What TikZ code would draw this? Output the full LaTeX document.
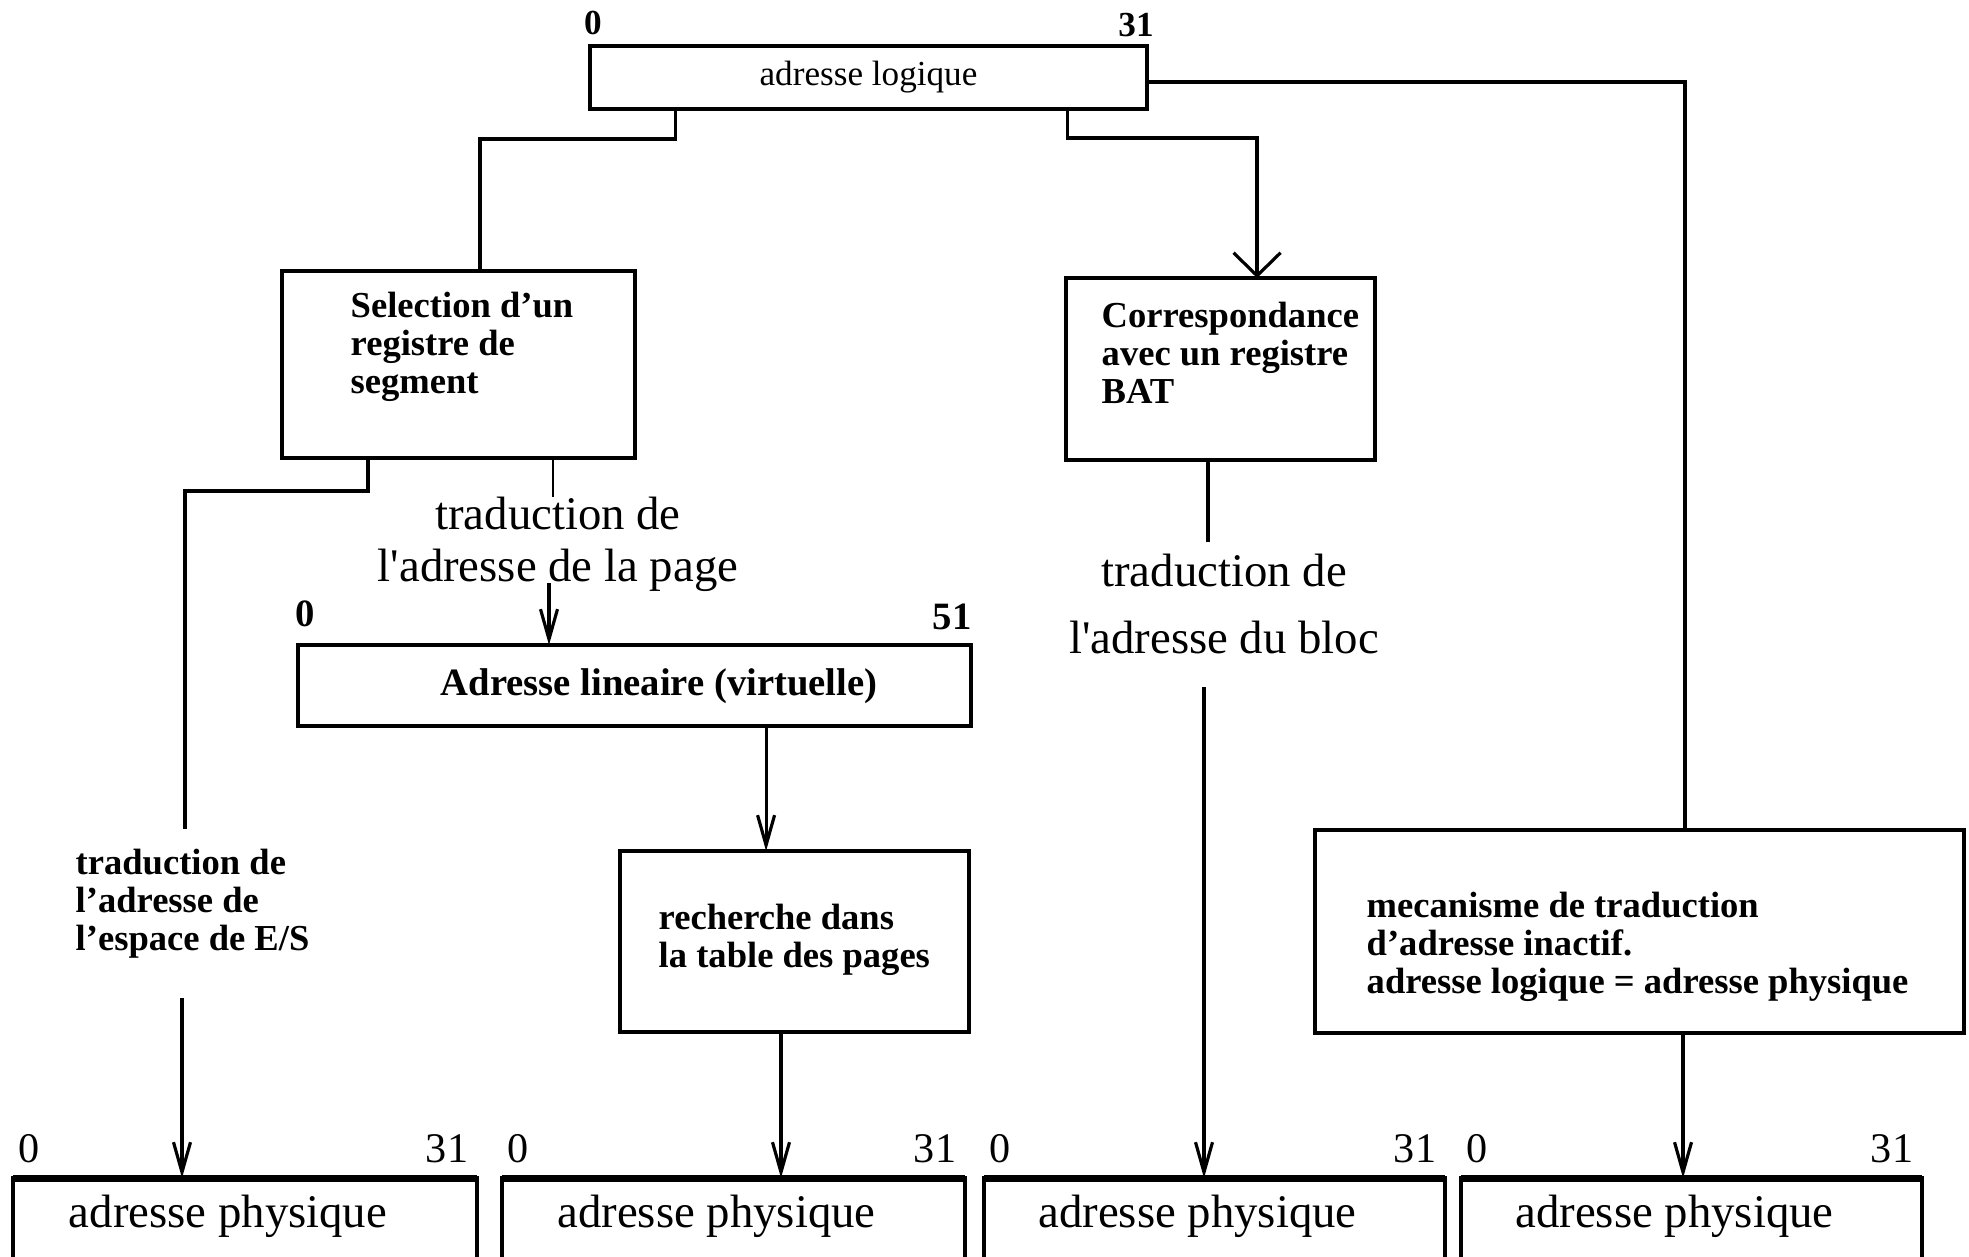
\documentclass[tikz,border=0pt]{standalone}
\usepackage{fontspec}
\setmainfont{Liberation Serif}
\usetikzlibrary{arrows.meta}
\begin{document}
\begin{tikzpicture}[x=0.01cm,y=-0.01cm,
  box/.style={draw, line width=1.2pt, inner sep=0pt, outer sep=0pt},
  conn/.style={line width=0.9pt},
  arr/.style={conn, -{Straight Barb[length=0.3cm,width=0.17cm]}},
  bld/.style={font=\fontsize{10.4}{10.8}\selectfont\bfseries, align=left, inner sep=0pt},
  reg/.style={font=\fontsize{13.3}{14.8}\selectfont, inner sep=0pt},
  lbl/.style={font=\fontsize{10}{12}\selectfont\bfseries, inner sep=0pt},
  lblb/.style={font=\fontsize{11}{13}\selectfont\bfseries, inner sep=0pt},
  num/.style={font=\fontsize{12}{14}\selectfont, inner sep=0pt},
]
\useasboundingbox (0,0) rectangle (1969,1256);
\fill[white] (0,0) rectangle (1969,1256);
\clip (0,0) rectangle (1969,1256);

% top box
\node[box, minimum width=5.57cm, minimum height=0.63cm, font=\fontsize{10}{12}\selectfont] (log) at (868.5,77.5) {adresse logique};
\node[lbl] (log0) at (593,23) {0};
\node[lbl] (log31) at (1136,25) {31};

% selection box
\node[box, minimum width=3.53cm, minimum height=1.87cm] (sel) at (458.5,364.5) {};
\node[bld, anchor=west] (selt) at (350,347) {Selection d'un\\registre de\\segment};

% BAT box
\node[box, minimum width=3.09cm, minimum height=1.82cm] (bat) at (1220.5,369) {};
\node[bld, anchor=west] (batt) at (1101,353) {Correspondance\\avec un registre\\BAT};

% linear address
\node[box, minimum width=6.73cm, minimum height=0.81cm] (lin) at (634.5,685.5) {};
\node[font=\fontsize{11}{13}\selectfont\bfseries, inner sep=0pt] (lint) at (659,686) {Adresse lineaire (virtuelle)};
\node[lblb] (lin0) at (305,614) {0};
\node[lblb] (lin51) at (952,617) {51};

% recherche
\node[box, minimum width=3.49cm, minimum height=1.81cm] (rech) at (794.5,941.5) {};
\node[bld, anchor=west] (recht) at (658,940) {recherche dans\\la table des pages};

% mecanisme
\node[box, minimum width=6.49cm, minimum height=2.03cm] (mec) at (1639.5,931.5) {};
\node[bld, anchor=west] (mect) at (1366,947) {mecanisme de traduction\\d'adresse inactif.\\adresse logique = adresse physique};

% labels
\node[bld, anchor=west] (iot) at (75,904) {traduction de\\l'adresse de\\l'espace de E/S};
\node[reg, align=center] (pgt) at (558,544) {traduction de\\l\textquotesingle adresse de la page};
\node[reg, align=center] (blt) at (1224,604) {traduction de\\[4.5pt]l\textquotesingle adresse du bloc};

% bottom boxes
\foreach \n/\l/\r in {p1/13/477, p2/502/965, p3/984/1445, p4/1461/1922}{
  \pgfmathsetmacro{\w}{(\r-\l)/100}
  \pgfmathsetmacro{\c}{(\r+\l)/2}
  \node[box, minimum width=\w cm, minimum height=1.4cm, anchor=north] (\n) at (\c,1178) {};
  \draw[line width=2pt] (\n.north west) -- (\n.north east);
  \node[reg] (\n t) at (\c-17,1216) {adresse physique};
  \node[num] (\n z) at (\l+16,1149) {0};
  \node[num] (\n m) at (\r-30,1149) {31};
}

% connectors
\draw[conn] ([xshift=-1.925cm]log.south) -- ++(0,30) -| ([xshift=0.215cm]sel.north);
\draw[conn, -{Straight Barb[length=0.23cm,width=0.47cm]}] ([xshift=1.985cm]log.south) -- ++(0,29) -| ([xshift=0.365cm]bat.north);
\draw[conn] ([yshift=-0.045cm]log.east) -| ([xshift=0.455cm]mec.north);

\coordinate (ioTop) at (185,829);
\coordinate (ioBot) at (182,998);
\draw[conn] ([xshift=-0.905cm]sel.south) -- ++(0,33) -| (ioTop);
\draw[arr] (ioBot) -- (ioBot |- p1.north);

\draw[line width=0.6pt] ([xshift=0.945cm]sel.south) -- ++(0,39);
\coordinate (pgBot) at (549,583);
\draw[arr] (pgBot) -- (pgBot |- lin.north);

\draw[arr] ([xshift=1.315cm]lin.south) -- ([xshift=1.315cm]lin.south |- rech.north);
\draw[arr] ([xshift=-0.135cm]rech.south) -- ([xshift=-0.135cm]rech.south |- p2.north);

\draw[conn] ([xshift=-0.125cm]bat.south) -- ++(0,82);
\coordinate (blBot) at (1204,687);
\draw[arr] (blBot) -- (blBot |- p3.north);

\draw[arr] ([xshift=0.435cm]mec.south) -- ([xshift=0.435cm]mec.south |- p4.north);
\end{tikzpicture}
\end{document}
